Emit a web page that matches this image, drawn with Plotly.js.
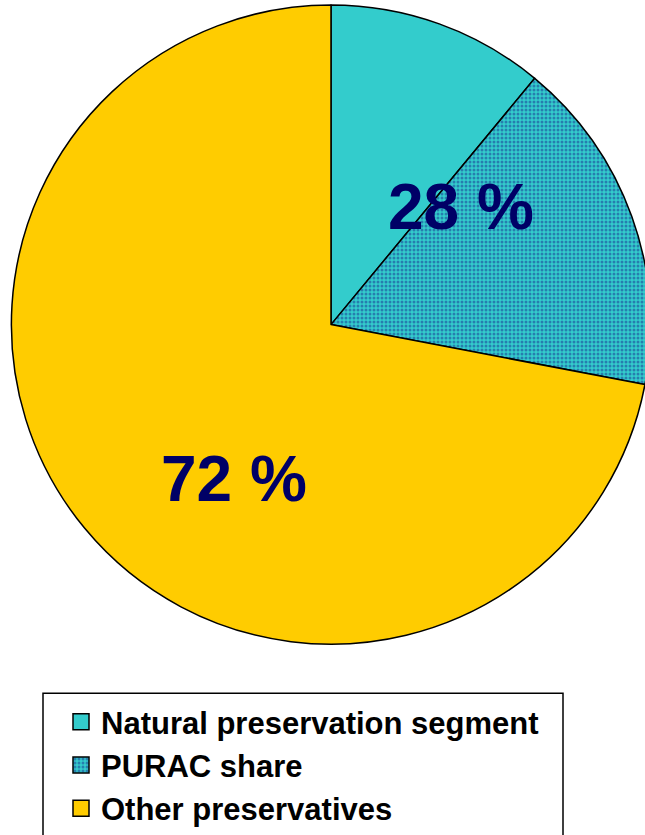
<!DOCTYPE html>
<html>
<head>
<meta charset="utf-8">
<script src="https://cdn.plot.ly/plotly-3.0.1.min.js"></script>
<style>
html, body { margin: 0; padding: 0; overflow: hidden; background: #fff; }
#chart { width: 700px; height: 835px; }
</style>
</head>
<body>
<div id="chart"></div>
<script>
const categories = ["Natural preservation segment", "PURAC share", "Other preservatives"];
const shares = [11, 17, 72];
const sliceColors = ["#33CCCC", "#33CCCC", "#FFCC00"];
const bigLabels = ["28 %", "72 %"];

const W = 700, H = 835;

const trace = {
  type: "pie",
  labels: categories.map(c => "<b>" + c + "</b>"),
  values: shares,
  sort: false,
  direction: "clockwise",
  rotation: 0,
  textinfo: "none",
  hoverinfo: "skip",
  marker: {
    colors: sliceColors,
    line: { color: "#000000", width: 1.5 },
    pattern: {
      shape: ["", ".", ""],
      fgcolor: "#1A2F8F",
      bgcolor: ["#33CCCC", "#33CCCC", "#FFCC00"],
      size: 4,
      solidity: 0.45,
      fillmode: "overlay"
    }
  },
  domain: { x: [11 / W, 651 / W], y: [190 / H, 830 / H] }
};

const layout = {
  width: W,
  height: H,
  margin: { l: 0, r: 0, t: 0, b: 0 },
  paper_bgcolor: "#ffffff",
  showlegend: true,
  legend: {
    x: 61 / W,
    y: (H - 696) / H,
    xanchor: "left",
    yanchor: "top",
    bgcolor: "rgba(0,0,0,0)",
    borderwidth: 0,
    font: { family: "Liberation Sans, Arial, sans-serif", size: 31, color: "#000000" },
    traceorder: "normal"
  },
  shapes: [
    {
      type: "rect", xref: "paper", yref: "paper",
      x0: 43 / W, x1: 563 / W, y0: -0.02, y1: (H - 694) / H,
      line: { color: "#000000", width: 1.5 }, fillcolor: "#ffffff", layer: "below"
    }
  ],
  annotations: [
    {
      text: "<b>" + bigLabels[0] + "</b>", x: 461 / W, y: (H - 207) / H, xref: "paper", yref: "paper",
      showarrow: false, xanchor: "center", yanchor: "middle",
      font: { family: "Liberation Sans, Arial, sans-serif", size: 64, color: "#000066" }
    },
    {
      text: "<b>" + bigLabels[1] + "</b>", x: 234 / W, y: (H - 480) / H, xref: "paper", yref: "paper",
      showarrow: false, xanchor: "center", yanchor: "middle",
      font: { family: "Liberation Sans, Arial, sans-serif", size: 64, color: "#000066" }
    }
  ]
};

Plotly.newPlot("chart", [trace], layout, { displayModeBar: false, staticPlot: true }).then(gd => {
  gd.querySelectorAll(".legend .legendpoints path").forEach(p => {
    p.setAttribute("d", "M8,8H-8V-8H8Z");
  });
});
</script>
</body>
</html>
